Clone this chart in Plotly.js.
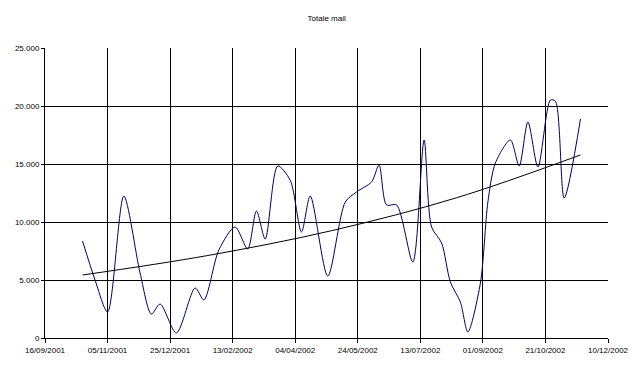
<!DOCTYPE html>
<html>
<head>
<meta charset="utf-8">
<script src="https://cdn.plot.ly/plotly-3.0.1.min.js"></script>
<style>html,body{margin:0;padding:0;background:#fff;}#chart{width:643px;height:370px;}</style>
</head>
<body>
<div id="chart"></div>
<script>
// Totale mail
const dates = [
  "2001-10-16","2001-10-26","2001-11-05","2001-11-18","2001-12-01","2001-12-10","2001-12-17","2001-12-30",
  "2002-01-14","2002-01-21","2002-02-02","2002-02-15","2002-02-25","2002-03-04","2002-03-11","2002-03-21",
  "2002-03-31","2002-04-09","2002-04-16","2002-04-30","2002-05-14","2002-05-23","2002-06-04","2002-06-10",
  "2002-06-16","2002-06-24","2002-07-07","2002-07-16","2002-07-22","2002-07-30","2002-08-06","2002-08-14",
  "2002-08-20","2002-08-30","2002-09-05","2002-09-11","2002-09-23","2002-09-30","2002-10-07","2002-10-15",
  "2002-10-25","2002-10-29","2002-11-05","2002-11-18"
];
const mails = [
  8360, 5000, 2240, 12240, 5600, 2070, 2930, 430,
  4310, 3280, 7600, 9570, 7670, 10950, 8530, 14830,
  13600, 9140, 12240, 5340, 11720, 12590, 13450, 14910,
  11470, 11470, 6550, 17070, 9570, 8190, 4830, 3100,
  520, 4740, 11720, 15090, 17070, 14830, 18620, 14740,
  20520, 20400, 12070, 18880
];
// exponential trend line, read at five dates
const trendDates = ["2001-10-16","2002-01-23","2002-05-03","2002-08-11","2002-11-18"];
const trendValues = [5430, 7090, 9250, 12090, 15780];

const xTickStart = "2001-09-16";
const xRange = ["2001-09-16","2002-12-10"];
const yRange = [0, 25000];

const font = {family: "Liberation Sans, Arial, sans-serif", size: 8, color: "#000"};

const traces = [
  {x: dates, y: mails, type: "scatter", mode: "lines",
   line: {color: "#000066", width: 1, shape: "spline", smoothing: 0.8},
   hoverinfo: "x+y", showlegend: false},
  {x: trendDates, y: trendValues, type: "scatter", mode: "lines",
   line: {color: "#000", width: 1, shape: "spline"},
   hoverinfo: "skip", showlegend: false}
];

const layout = {
  width: 643, height: 370,
  margin: {l: 45, r: 35, t: 48, b: 32},
  paper_bgcolor: "#fff", plot_bgcolor: "#fff",
  separators: ",.",
  font: font,
  title: {text: "Totale mail", font: {family: font.family, size: 8, color: "#000"},
          x: 0.508, xanchor: "center", y: 0.95, yanchor: "middle"},
  xaxis: {
    type: "date", range: xRange, tick0: xTickStart, dtick: 50 * 86400000,
    tickformat: "%d/%m/%Y", showgrid: true, gridcolor: "#000", gridwidth: 1,
    showline: true, linecolor: "#000", linewidth: 1, mirror: false,
    ticks: "outside", ticklen: 4, tickcolor: "#000", tickfont: font,
    zeroline: false, fixedrange: true
  },
  yaxis: {
    range: yRange, dtick: 5000, tickformat: ",d",
    showgrid: true, gridcolor: "#000", gridwidth: 1,
    showline: true, linecolor: "#000", linewidth: 1,
    ticks: "outside", ticklen: 3, tickcolor: "#000", tickfont: font,
    zeroline: false, fixedrange: true
  }
};

Plotly.newPlot("chart", traces, layout, {displayModeBar: false, staticPlot: true});
</script>
</body>
</html>
